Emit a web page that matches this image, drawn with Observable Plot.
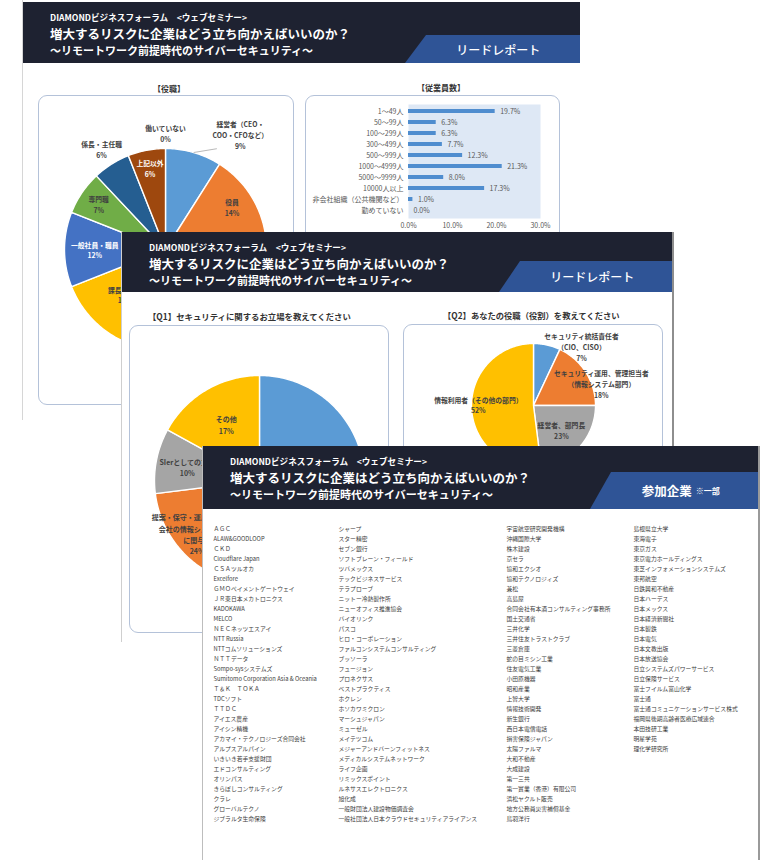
<!DOCTYPE html>
<html lang="ja"><head><meta charset="utf-8">
<script src="https://cdn.jsdelivr.net/npm/d3@7"></script>
<script src="https://cdn.jsdelivr.net/npm/@observablehq/plot@0.6"></script>
<style>
html,body{margin:0;padding:0;background:#fff;}
body{font-family:"Noto Sans CJK JP","Noto Sans",sans-serif;}
#root{position:relative;width:766px;height:860px;overflow:hidden;background:#fff;}
.page{position:absolute;background:#fff;overflow:hidden;box-sizing:border-box;}
.hdr{position:absolute;left:0;right:0;background:#1e2231;}
.t{position:absolute;white-space:nowrap;line-height:1;}
.tag{position:absolute;background:#2f5496;display:flex;align-items:center;justify-content:center;color:#fff;white-space:nowrap;}
.box{position:absolute;border:1px solid #b4c2d9;border-radius:9px;box-sizing:border-box;}
.page svg{position:absolute;}
</style></head><body><div id="root"></div>
<script>
// ---------- text ----------
const headerLine1 = "DIAMONDビジネスフォーラム　<ウェブセミナー>";
const headerTitle = "増大するリスクに企業はどう立ち向かえばいいのか？";
const headerSub = "～リモートワーク前提時代のサイバーセキュリティ～";
const tagLead = "リードレポート";
const tagCompanies = "参加企業";
const tagCompaniesNote = "※一部";

// ---------- page 1: 役職 pie ----------
const roleTitle = "【役職】";
const roleLabels = ["経営者（CEO・\nCOO・CFOなど）", "役員", "部長・部門長クラス", "課長クラス", "一般社員・職員", "専門職", "係長・主任職", "上記以外", "働いていない"];
const roleValues = [9, 14, 30, 16, 12, 7, 6, 6, 0];

// ---------- page 1: 従業員数 bars ----------
const sizeTitle = "【従業員数】";
const sizeLabels = ["1～49人", "50～99人", "100～299人", "300～499人", "500～999人", "1000～4999人", "5000～9999人", "10000人以上", "非会社組織（公共機関など）", "勤めていない"];
const sizeValues = [19.7, 6.3, 6.3, 7.7, 12.3, 21.3, 8.0, 17.3, 1.0, 0.0];
const sizeTicks = [0, 10, 20, 30];

// ---------- page 2: Q1 / Q2 pies ----------
const q1Title = "【Q1】セキュリティに関するお立場を教えてください";
const q1Labels = ["情報システム部門\n（自社のセキュリティに関与）", "提案・保守・運用（ベンダー\n会社の情報システム部門\nに関与）", "SIerとしての立場", "その他"];
const q1Values = [49, 24, 10, 17];
const q2Title = "【Q2】あなたの役職（役割）を教えてください";
const q2Labels = ["セキュリティ統括責任者\n（CIO、CISO）", "セキュリティ運用、管理担当者\n（情報システム部門）", "経営者、部門長", "情報利用者（その他の部門）"];
const q2Values = [7, 18, 23, 52];

// ---------- page 3: companies ----------
const companiesCol1 = ["ＡＧＣ", "ALAW&GOODLOOP", "ＣＫＤ", "Cloudflare Japan", "ＣＳＡツルオカ", "Excelfore", "ＧＭＯペイメントゲートウェイ", "ＪＲ東日本メカトロニクス", "KADOKAWA", "MELCO", "ＮＥＣネッツエスアイ", "NTT Russia", "NTTコムソリューションズ", "ＮＴＴデータ", "Sompo-sysシステムズ", "Sumitomo Corporation Asia & Oceania", "Ｔ＆Ｋ　ＴＯＫＡ", "TDCソフト", "ＴＴＤＣ", "アイエス農産", "アイシン精機", "アカマイ・テクノロジーズ合同会社", "アルプスアルパイン", "いきいき若手支援財団", "エドコンサルティング", "オリンパス", "きらぼしコンサルティング", "クラレ", "グローバルテクノ", "ジブラルタ生命保険"];
const companiesCol2 = ["シャープ", "スター精密", "セブン銀行", "ソフトブレーン・フィールド", "ツバメックス", "テックビジネスサービス", "テラプローブ", "ニットー冷熱製作所", "ニューオフィス推進協会", "バイオリンク", "パスコ", "ヒロ・コーポレーション", "ファルコンシステムコンサルティング", "ブッソーラ", "フュージョン", "プロネクサス", "ベストプラクティス", "ホクレン", "ホソカワミクロン", "マーシュジャパン", "ミューゼル", "メイテツコム", "メジャーアンドバーンフィットネス", "メディカルシステムネットワーク", "ライフ企画", "リミックスポイント", "ルネサスエレクトロニクス", "旭化成", "一般財団法人建設物価調査会", "一般社団法人日本クラウドセキュリティアライアンス"];
const companiesCol3 = ["宇宙航空研究開発機構", "沖縄国際大学", "株木建設", "京セラ", "協和エクシオ", "協和テクノロジィズ", "兼松", "高島屋", "合同会社有本酒コンサルティング事務所", "国土交通省", "三井化学", "三井住友トラストクラブ", "三菱倉庫", "蛇の目ミシン工業", "住友電気工業", "小田原機器", "昭和産業", "上智大学", "情報技術開発", "新生銀行", "西日本電信電話", "損害保険ジャパン", "太陽ファルマ", "大和不動産", "大成建設", "第一三共", "第一實業（香港）有限公司", "浜松ヤクルト販売", "地方公務員災害補償基金", "鳥羽洋行"];
const companiesCol4 = ["島根県立大学", "東海電子", "東京ガス", "東京電力ホールディングス", "東芝インフォメーションシステムズ", "東邦航空", "日鉄興和不動産", "日本ハーデス", "日本メックス", "日本経済新聞社", "日本製鉄", "日本電気", "日本文教出版", "日本放送協会", "日立システムズパワーサービス", "日立保険サービス", "富士フイルム富山化学", "富士通", "富士通コミュニケーションサービス株式", "福岡県後期高齢者医療広域連合", "本田技研工業", "明星学苑", "理化学研究所"];

// ---------- styles / layout (kept apart from data) ----------
const FONT = "'Noto Sans CJK JP','Noto Sans',sans-serif";
const INK = "#404040";
const excel = ["#5b9bd5", "#ed7d31", "#a5a5a5", "#ffc000", "#4472c4", "#70ad47", "#255e91", "#9e480e", "#636363"];
const roleInk = [INK, INK, INK, INK, "#ffffff", INK, INK, "#ffffff", INK];
const roleLabelR = [1.36, 0.78, 0.65, 0.6, 0.7, 0.8, 1.18, 0.82, 1.15];
const roleLabelA = [33, null, null, 222, null, null, null, null, null];
const roleLabelShown = [true, true, false, true, true, true, true, true, true];   // occluded by page 2
const q1LabelR = [0.7, 0.78, 0.7, 0.62];
const q1LabelA = [null, 229.5, null, null];
const q1LabelShown = [false, true, true, true];                                   // occluded by page 3
const q2LabelR = [1.23, 1.15, 0.6, 0.89];
const q2LabelA = [39, 72, null, 271];

const root = document.getElementById("root");
const plotStyle = {background: "transparent", overflow: "visible", maxWidth: "none", fontFamily: FONT};

function makeDiv(parent, cls) { const d = document.createElement("div"); if (cls) d.className = cls; parent.appendChild(d); return d; }
function addText(page, x, y, text, size, weight, color, anchor) {
  const d = makeDiv(page.el, "t");
  d.textContent = text;
  d.style.fontSize = size + "px"; d.style.fontWeight = weight; d.style.color = color;
  d.style.left = (x - page.x) + "px"; d.style.top = (y - page.y - size / 2) + "px";
  if (anchor === "middle") d.style.transform = "translateX(-50%)";
  return d;
}
function addBox(page, x, y, w, h) {
  const d = makeDiv(page.el, "box");
  Object.assign(d.style, {left: (x - page.x) + "px", top: (y - page.y) + "px", width: w + "px", height: h + "px"});
}
function placeSvg(page, svg, x, y) {
  svg.style.left = (x - page.x) + "px"; svg.style.top = (y - page.y) + "px";
  page.el.appendChild(svg);
}

function makePage(def) {
  const el = makeDiv(root, "page");
  Object.assign(el.style, {left: def.x + "px", top: def.y + "px", width: def.w + "px", height: def.h + "px", zIndex: def.z});
  Object.assign(el.style, def.css);
  const page = {...def, el};
  const hdr = makeDiv(el, "hdr");
  hdr.style.top = (def.headTop - def.y) + "px"; hdr.style.height = def.headH + "px";
  const lx = def.x + 27;
  addText(page, lx, def.headTop + 15, headerLine1, 8.6, 700, "#fff");
  addText(page, lx, def.headTop + 32, headerTitle, 12.5, 700, "#fff");
  addText(page, lx, def.headTop + 48, headerSub, 11, 700, "#fff");
  const tag = makeDiv(el, "tag");
  const right = def.x + def.w;
  const slant = def.tag.tl - def.tag.bl;
  Object.assign(tag.style, {left: (def.tag.bl - def.x) + "px", top: (def.tag.top - def.y) + "px",
    width: (right - def.tag.bl) + "px", height: (def.headTop + def.headH - def.tag.top) + "px",
    clipPath: `polygon(${slant}px 0, 100% 0, 100% 100%, 0 100%)`, paddingLeft: (slant / 2) + "px", boxSizing: "border-box"});
  if (def.tagNote) {
    const a = document.createElement("span"); a.textContent = def.tagText; a.style.fontSize = "12.5px"; a.style.fontWeight = "700";
    const b = document.createElement("span"); b.textContent = def.tagNote; b.style.fontSize = "8px"; b.style.fontWeight = "700"; b.style.marginLeft = "4px";
    tag.appendChild(a); tag.appendChild(b);
  } else {
    tag.textContent = def.tagText; tag.style.fontSize = "12px"; tag.style.fontWeight = "500";
  }
  return page;
}

function piePlot({labels, values, colors, ink, labelR, labelA, shown, fontSize, cx, cy, r, box, leaders = []}) {
  const arcs = d3.pie().sort(null).value(d => d)(values);
  const pts = [];
  arcs.forEach((a, i) => {
    if (a.endAngle - a.startAngle <= 0) return;
    const n = Math.max(2, Math.ceil((a.endAngle - a.startAngle) * 180 / Math.PI));
    pts.push({i, x: 0, y: 0, c: colors[i]});
    for (let k = 0; k <= n; k++) {
      const t = a.startAngle + (a.endAngle - a.startAngle) * k / n;
      pts.push({i, x: Math.sin(t), y: Math.cos(t), c: colors[i]});
    }
    pts.push({i, x: 0, y: 0, c: colors[i]});
  });
  const lbls = arcs.map((a, i) => {
    const t = labelA[i] != null ? labelA[i] * Math.PI / 180 : (a.startAngle + a.endAngle) / 2;
    return {i, x: labelR[i] * Math.sin(t), y: labelR[i] * Math.cos(t), text: labels[i] + "\n" + values[i] + "%", c: ink[i]};
  }).filter(d => !shown || shown[d.i]);
  const links = leaders.map(L => {
    const a = arcs[L.slice]; const t0 = (a.startAngle + a.endAngle) / 2; const t1 = L.angle * Math.PI / 180;
    return {x1: L.r0 * Math.sin(t0), y1: L.r0 * Math.cos(t0), x2: L.r1 * Math.sin(t1), y2: L.r1 * Math.cos(t1)};
  });
  return Plot.plot({
    width: box.w, height: box.h, margin: 0, style: plotStyle,
    x: {domain: [-1, 1], range: [cx - r - box.x, cx + r - box.x], axis: null},
    y: {domain: [-1, 1], range: [cy + r - box.y, cy - r - box.y], axis: null},
    color: {type: "identity"},
    marks: [
      Plot.line(pts, {x: "x", y: "y", z: "i", fill: "c", stroke: "#ffffff", strokeWidth: 1.4, curve: "linear"}),
      Plot.link(links, {x1: "x1", y1: "y1", x2: "x2", y2: "y2", stroke: "#a6a6a6", strokeWidth: 0.8}),
      Plot.text(lbls, {x: "x", y: "y", text: "text", fill: "c", fontSize, fontWeight: 700, lineHeight: 1.6})
    ]
  });
}

function listPlot(items, width) {
  return Plot.plot({
    width, height: 330, marginLeft: 0, marginRight: 0, marginTop: 9, marginBottom: 15, style: plotStyle,
    y: {type: "point", domain: d3.range(30), padding: 0, axis: null},
    marks: [Plot.text(items, {y: (d, i) => i, text: d => d, frameAnchor: "left", textAnchor: "start", fontSize: 5.8, fill: "#3c3c3c"})]
  });
}

// ---------- pages ----------
const p1 = makePage({x: 22, y: 0, w: 558, h: 420, headTop: 2, headH: 61, tag: {bl: 404, tl: 425, top: 35}, tagText: tagLead, z: 1,
  css: {borderLeft: "1px solid #d6d6d6"}});
const p2 = makePage({x: 121, y: 232, w: 553, h: 410, headTop: 232, headH: 60, tag: {bl: 498, tl: 519, top: 261}, tagText: tagLead, z: 2,
  css: {borderLeft: "1px solid #cfcfcf", borderRight: "2px solid #8e8e8e"}});
const p3 = makePage({x: 202, y: 446, w: 558, h: 416, headTop: 446, headH: 63, tag: {bl: 589, tl: 610, top: 472}, tagText: tagCompanies, tagNote: tagCompaniesNote, z: 3,
  css: {borderLeft: "1px solid #bdbdbd", borderRight: "2px solid #9a9a9a"}});

// page 1 content
addText(p1, 168, 89, roleTitle, 8, 700, "#333", "middle");
addBox(p1, 37, 95, 256, 310);
placeSvg(p1, piePlot({labels: roleLabels, values: roleValues, colors: excel, ink: roleInk, labelR: roleLabelR, labelA: roleLabelA, shown: roleLabelShown,
  fontSize: 6.8, cx: 164, cy: 249, r: 101, box: {x: 37, y: 95, w: 256, h: 310}, leaders: [{slice: 0, r0: 1.0, r1: 1.12, angle: 27}]}), 37, 95);

addText(p1, 440, 88, sizeTitle, 8, 700, "#333", "middle");
addBox(p1, 304, 95, 255, 150);
const sizeData = sizeLabels.map((label, i) => ({label, value: sizeValues[i]}));
placeSvg(p1, Plot.plot({
  width: 255, height: 150, marginLeft: 103, marginRight: 20, marginTop: 9, marginBottom: 27, style: plotStyle,
  x: {domain: [0, 30], label: null},
  y: {domain: sizeLabels, paddingInner: 0.6, paddingOuter: 0.25, label: null},
  marks: [
    Plot.frame({fill: "#dee8f5", stroke: null}),
    Plot.barX(sizeData, {x: "value", y: "label", fill: "#4f8dcf"}),
    Plot.text(sizeData, {x: "value", y: "label", text: d => d.value.toFixed(1) + "%", dx: 5, textAnchor: "start", fontSize: 7, fill: "#595959"}),
    Plot.axisX(sizeTicks, {tickSize: 0, tickPadding: 5, tickFormat: d => d.toFixed(1) + "%", fontSize: 7, fill: "#595959", label: null}),
    Plot.axisY({tickSize: 0, tickPadding: 5, fontSize: 7, fill: "#595959", label: null})
  ]
}), 304, 95);

// page 2 content
addText(p2, 147, 316, q1Title, 8.4, 700, "#333");
addBox(p2, 128, 325, 260, 308);
placeSvg(p2, piePlot({labels: q1Labels, values: q1Values, colors: excel, ink: [INK, INK, INK, INK], labelR: q1LabelR, labelA: q1LabelA, shown: q1LabelShown,
  fontSize: 7, cx: 258, cy: 480, r: 105, box: {x: 128, y: 325, w: 260, h: 308}}), 128, 325);

addText(p2, 442, 315, q2Title, 8.3, 700, "#333");
addBox(p2, 402, 324, 260, 160);
placeSvg(p2, piePlot({labels: q2Labels, values: q2Values, colors: excel, ink: [INK, INK, INK, INK], labelR: q2LabelR, labelA: q2LabelA,
  fontSize: 6.8, cx: 532, cy: 405, r: 62, box: {x: 402, y: 324, w: 260, h: 160}}), 402, 324);

// page 3 content
placeSvg(p3, listPlot(companiesCol1, 125), 212, 512);
placeSvg(p3, listPlot(companiesCol2, 168), 337, 512);
placeSvg(p3, listPlot(companiesCol3, 127), 505, 512);
placeSvg(p3, listPlot(companiesCol4, 128), 632, 512);
</script></body></html>
